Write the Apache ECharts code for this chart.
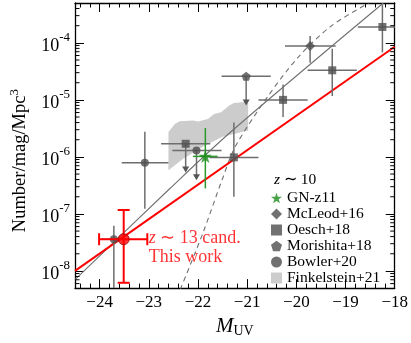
<!DOCTYPE html>
<html><head><meta charset="utf-8">
<script src="https://cdn.jsdelivr.net/npm/echarts@6/dist/echarts.min.js"></script>
<style>html,body{margin:0;padding:0;background:#fff}#c{width:411px;height:343px}</style>
</head><body><div id="c"></div>
<script>
const FONT = '"Liberation Serif","Times New Roman",serif';
// axis ranges
const xMin = -24.5, xMax = -18;
const yMin = 5e-9, yMax = 5e-4;

// This work (z~13 candidate)
const thisM = [-23.51], thisPhi = [3.6e-8], thisMlo = [-24.01], thisMhi = [-23.03], thisPhiLo = [6.2e-9], thisPhiHi = [1.17e-7];
// red fit line
const redLineM = [-24.5, -18], redLinePhi = [1.0e-8, 8.55e-5];
// gray solid model line
const grayLineM = [-24.5, -22.57, -21.3, -18.23], grayLinePhi = [7.06e-9, 2.79e-7, 2.90e-6, 5.0e-4];
// gray dashed model line
const dashLineM = [-22.36, -21.9, -21.5, -21.23, -20.57, -19.97, -19.3, -18.53];
const dashLinePhi = [4.73e-9, 4.6e-8, 4.18e-7, 1.58e-6, 1.18e-5, 5.5e-5, 1.95e-4, 5.0e-4];

// GN-z11
const gnM = [-21.85], gnPhi = [1.02e-6], gnMlo = [-22.1], gnMhi = [-21.6], gnPhiLo = [2.8e-7], gnPhiHi = [3.2e-6];
// McLeod+16
const mcM = [-19.72], mcPhi = [8.8e-5], mcMlo = [-20.23], mcMhi = [-19.2], mcPhiLo = [4.5e-5], mcPhiHi = [1.32e-4];
// Oesch+18
const oeM = [-21.27, -20.27, -19.27, -18.25], oePhi = [9.8e-7, 1.0e-5, 3.3e-5, 1.9e-4];
const oeMlo = [-21.77, -20.77, -19.77, -18.75], oeMhi = [-20.77, -19.77, -18.77, -17.75];
const oePhiLo = [2.0e-7, 5.0e-6, 1.17e-5, 6.8e-5], oePhiHi = [4.0e-6, 1.86e-5, 7.9e-5, 4.7e-4];
const oeUlM = [-22.25], oeUlPhi = [1.7e-6], oeUlMlo = [-22.75], oeUlMhi = [-21.75], oeUlTip = [5.3e-7];
// Morishita+18 (upper limit)
const moUlM = [-21.02], moUlPhi = [2.6e-5], moUlMlo = [-21.52], moUlMhi = [-20.52], moUlTip = [8.0e-6];
// Bowler+20
const boM = [-23.71, -23.08], boPhi = [3.6e-8, 7.9e-7], boMlo = [-23.96, -23.55], boMhi = [-23.46, -22.6];
const boPhiLo = [4.0e-9, 1.23e-7], boPhiHi = [6.2e-8, 2.75e-6];
const boUlM = [-22.03], boUlPhi = [1.3e-6], boUlMlo = [-22.52], boUlMhi = [-21.52], boUlTip = [3.9e-7];
// Finkelstein+21 band
const fkUpM = [-22.6, -22.47, -22.37, -22.1, -22.0, -21.8, -21.67, -21.53, -21.37, -21.27, -21.1, -20.98];
const fkUpPhi = [2.72e-6, 3.79e-6, 4.23e-6, 4.33e-6, 4.16e-6, 4.63e-6, 5.66e-6, 6.07e-6, 7.91e-6, 8.81e-6, 9.06e-6, 9.53e-6];
const fkLoM = [-22.6, -22.3, -21.9, -21.5, -20.98];
const fkLoPhi = [5.82e-7, 9.31e-7, 1.51e-6, 2.25e-6, 2.90e-6];

const STAR = 'path://M0,-10L2.35,-3.24L9.51,-3.09L3.8,1.24L5.88,8.09L0,4.2L-5.88,8.09L-3.8,1.24L-9.51,-3.09L-2.35,-3.24Z';
const PENT = 'path://M0,-10L9.51,-3.09L5.88,8.09L-5.88,8.09L-9.51,-3.09Z';
const PTC = '#4d4d4d', BARC = '#6e6e6e';

function zipRows() { const a = arguments; return a[0].map((_, i) => Array.from(a, arr => arr[i])); }

function errRender(color, width, cap) {
  return function (params, api) {
    const m = api.value(0), p = api.value(1);
    const a = api.coord([api.value(2), p]), b = api.coord([api.value(3), p]);
    const t = api.coord([m, api.value(5)]), d = api.coord([m, api.value(4)]);
    const st = { stroke: color, lineWidth: width };
    const ch = [
      { type: 'line', shape: { x1: a[0], y1: a[1], x2: b[0], y2: b[1] }, style: st },
      { type: 'line', shape: { x1: t[0], y1: t[1], x2: d[0], y2: d[1] }, style: st }
    ];
    if (cap) {
      ch.push({ type: 'line', shape: { x1: a[0], y1: a[1] - cap, x2: a[0], y2: a[1] + cap }, style: st });
      ch.push({ type: 'line', shape: { x1: b[0], y1: b[1] - cap, x2: b[0], y2: b[1] + cap }, style: st });
      ch.push({ type: 'line', shape: { x1: t[0] - cap, y1: t[1], x2: t[0] + cap, y2: t[1] }, style: st });
      ch.push({ type: 'line', shape: { x1: d[0] - cap, y1: d[1], x2: d[0] + cap, y2: d[1] }, style: st });
    }
    return { type: 'group', children: ch };
  };
}
function ulRender(params, api) {
  const m = api.value(0), p = api.value(1);
  const a = api.coord([api.value(2), p]), b = api.coord([api.value(3), p]);
  const c = api.coord([m, p]), tip = api.coord([m, api.value(4)]);
  const st = { stroke: BARC, lineWidth: 1.5 };
  return { type: 'group', children: [
    { type: 'line', shape: { x1: a[0], y1: a[1], x2: b[0], y2: b[1] }, style: st },
    { type: 'line', shape: { x1: c[0], y1: c[1], x2: tip[0], y2: tip[1] - 5 }, style: st },
    { type: 'polygon', shape: { points: [[tip[0] - 3.5, tip[1] - 6], [tip[0] + 3.5, tip[1] - 6], [tip[0], tip[1]]] }, style: { fill: '#555' } }
  ] };
}

const chart = echarts.init(document.getElementById('c'), null, { renderer: 'canvas' });

const axisLineStyle = { color: '#000', width: 1.3 };
const xAxisBase = {
  type: 'value', min: xMin, max: xMax, splitNumber: 6,
  axisLine: { show: true, lineStyle: axisLineStyle },
  axisTick: { show: true, inside: true, length: 9, lineStyle: { color: '#000', width: 1 } },
  minorTick: { show: true, splitNumber: 5, length: 4.5, lineStyle: { color: '#000', width: 1 } },
  splitLine: { show: false }
};
const yAxisBase = {
  type: 'log', logBase: 10, min: yMin, max: yMax, splitNumber: 5,
  axisLine: { show: true, lineStyle: axisLineStyle },
  axisTick: { show: true, inside: true, length: 9, lineStyle: { color: '#000', width: 1 } },
  splitLine: { show: false }
};

const option = {
  animation: false,
  backgroundColor: '#fff',
  grid: { left: 70, right: 16, top: 3, bottom: 51, containLabel: false },
  xAxis: [
    Object.assign({}, xAxisBase, {
      position: 'bottom',
      name: '{m|M}{u|UV}', nameLocation: 'middle', nameGap: 17,
      nameTextStyle: { rich: {
        m: { fontFamily: FONT, fontSize: 21, fontStyle: 'italic', color: '#000' },
        u: { fontFamily: FONT, fontSize: 14, color: '#000', padding: [9, 0, 0, 0] } } },
      axisLabel: { show: true, margin: 6, fontFamily: FONT, fontSize: 17, color: '#000', showMinLabel: true, showMaxLabel: true,
        formatter: v => (Math.abs(v - Math.round(v)) < 1e-6 ? '\u2212' + Math.abs(Math.round(v)) : '') }
    }),
    Object.assign({}, xAxisBase, { position: 'top', axisLabel: { show: false } })
  ],
  yAxis: [
    Object.assign({}, yAxisBase, {
      position: 'left',
      name: '{a|Number/mag/Mpc}{s|3}', nameLocation: 'middle', nameGap: 42, nameRotate: 90,
      nameTextStyle: { padding: [0, 30, 0, 0], rich: {
        a: { fontFamily: FONT, fontSize: 18.5, color: '#000' },
        s: { fontFamily: FONT, fontSize: 13, color: '#000', padding: [0, 0, 12, 0] } } },
      axisLabel: { show: true, margin: 5, color: '#000',
        formatter: v => { const e = Math.log10(v); if (Math.abs(e - Math.round(e)) > 1e-6) return ''; return '{b|10}{s|-' + Math.abs(Math.round(e)) + '}'; },
        rich: { b: { fontFamily: FONT, fontSize: 18, color: '#000', padding: [6, 0, 0, 0] }, s: { fontFamily: FONT, fontSize: 13, color: '#000', padding: [0, 0, 10, 0] } } }
    }),
    Object.assign({}, yAxisBase, { position: 'right', axisLabel: { show: false } })
  ],
  legend: {
    orient: 'vertical', left: 271, top: 190, padding: 0, itemGap: 0, itemWidth: 11, itemHeight: 11,
    textStyle: { fontFamily: FONT, fontSize: 15.5, color: '#000', lineHeight: 14 },
    data: [
      { name: 'GN-z11', icon: STAR },
      { name: 'McLeod+16', icon: 'diamond' },
      { name: 'Oesch+18', icon: 'rect' },
      { name: 'Morishita+18', icon: PENT },
      { name: 'Bowler+20', icon: 'circle' },
      { name: 'Finkelstein+21', icon: 'rect' }
    ]
  },
  graphic: [
    { type: 'text', left: 274, top: 172, style: { text: '{i|z} \u223c 10', font: '15.5px ' + FONT, fill: '#000',
      rich: { i: { fontFamily: FONT, fontSize: 15.5, fontStyle: 'italic', fill: '#000' } } } }
  ],
  series: [
    { name: 'Finkelstein+21', type: 'custom', z: 1, clip: true, itemStyle: { color: '#cccccc' },
      data: [[fkUpM[0], fkUpPhi[0]]],
      renderItem: (params, api) => {
        const pts = fkUpM.map((m, i) => api.coord([m, fkUpPhi[i]]));
        for (let i = fkLoM.length - 1; i >= 0; i--) pts.push(api.coord([fkLoM[i], fkLoPhi[i]]));
        return { type: 'polygon', shape: { points: pts }, style: { fill: '#cccccc' } };
      } },
    // minor log ticks on left and right
    { name: 'yMinor', type: 'custom', z: 6, silent: true, data: [[xMin, yMin]],
      renderItem: (params, api) => {
        const cs = params.coordSys; const ch = [];
        for (let e = -9; e <= -4; e++) for (let k = 2; k <= 9; k++) {
          const v = k * Math.pow(10, e); if (v <= yMin || v >= yMax) continue;
          const y = api.coord([xMin, v])[1];
          ch.push({ type: 'line', shape: { x1: cs.x, y1: y, x2: cs.x + 4.5, y2: y }, style: { stroke: '#000', lineWidth: 1 } });
          ch.push({ type: 'line', shape: { x1: cs.x + cs.width, y1: y, x2: cs.x + cs.width - 4.5, y2: y }, style: { stroke: '#000', lineWidth: 1 } });
        }
        return { type: 'group', children: ch };
      } },
    { name: 'grayModel', type: 'line', z: 2, symbol: 'none', smooth: 0.3, data: zipRows(grayLineM, grayLinePhi), lineStyle: { color: '#707070', width: 1.1 } },
    { name: 'dashModel', type: 'line', z: 2, symbol: 'none', smooth: 0.3, data: zipRows(dashLineM, dashLinePhi), lineStyle: { color: '#707070', width: 1.1, type: [5, 4] } },
    { name: 'redFit', type: 'line', z: 3, symbol: 'none', data: zipRows(redLineM, redLinePhi), lineStyle: { color: '#ff0000', width: 2 } },
    // error bars
    { name: 'oeErr', type: 'custom', z: 4, clip: true, data: zipRows(oeM, oePhi, oeMlo, oeMhi, oePhiLo, oePhiHi), renderItem: errRender(BARC, 1.5, 0) },
    { name: 'mcErr', type: 'custom', z: 4, clip: true, data: zipRows(mcM, mcPhi, mcMlo, mcMhi, mcPhiLo, mcPhiHi), renderItem: errRender(BARC, 1.5, 0) },
    { name: 'boErr', type: 'custom', z: 4, clip: true, data: zipRows(boM, boPhi, boMlo, boMhi, boPhiLo, boPhiHi), renderItem: errRender(BARC, 1.5, 0) },
    { name: 'ulErr', type: 'custom', z: 4, clip: true,
      data: zipRows(oeUlM, oeUlPhi, oeUlMlo, oeUlMhi, oeUlTip).concat(zipRows(moUlM, moUlPhi, moUlMlo, moUlMhi, moUlTip), zipRows(boUlM, boUlPhi, boUlMlo, boUlMhi, boUlTip)),
      renderItem: ulRender },
    { name: 'gnErr', type: 'custom', z: 4, clip: true, data: zipRows(gnM, gnPhi, gnMlo, gnMhi, gnPhiLo, gnPhiHi), renderItem: errRender('#2a9a2a', 1.5, 0) },
    // markers
    { name: 'Oesch+18', type: 'scatter', z: 5, symbol: 'rect', symbolSize: 8, itemStyle: { color: PTC }, data: zipRows(oeM, oePhi).concat(zipRows(oeUlM, oeUlPhi)) },
    { name: 'McLeod+16', type: 'scatter', z: 5, symbol: 'diamond', symbolSize: [10, 10], itemStyle: { color: PTC }, data: zipRows(mcM, mcPhi) },
    { name: 'Morishita+18', type: 'scatter', z: 5, symbol: PENT, symbolSize: 9, itemStyle: { color: PTC }, data: zipRows(moUlM, moUlPhi) },
    { name: 'Bowler+20', type: 'scatter', z: 5, symbol: 'circle', symbolSize: 8, itemStyle: { color: PTC }, data: zipRows(boM, boPhi).concat(zipRows(boUlM, boUlPhi)) },
    { name: 'GN-z11', type: 'scatter', z: 5, symbol: STAR, symbolSize: 13, itemStyle: { color: '#1e8c1e' }, data: zipRows(gnM, gnPhi) },
    // this work
    { name: 'thisErr', type: 'custom', z: 7, clip: true, data: zipRows(thisM, thisPhi, thisMlo, thisMhi, thisPhiLo, thisPhiHi), renderItem: errRender('#ff0000', 2, 6) },
    { name: 'This work', type: 'scatter', z: 8, symbol: 'circle', symbolSize: 11,
      itemStyle: { color: '#ff0000', borderColor: '#a00000', borderWidth: 1 },
      label: { show: true, position: 'right', distance: 19, offset: [0, 9], color: '#ff0000', fontFamily: FONT, fontSize: 18, lineHeight: 19, align: 'left',
        formatter: '{i|z} \u223c 13 cand.\nThis work',
        rich: { i: { fontFamily: FONT, fontSize: 18, fontStyle: 'italic', color: '#ff0000' } } },
      data: zipRows(thisM, thisPhi) }
  ]
};
chart.setOption(option);
</script></body></html>
